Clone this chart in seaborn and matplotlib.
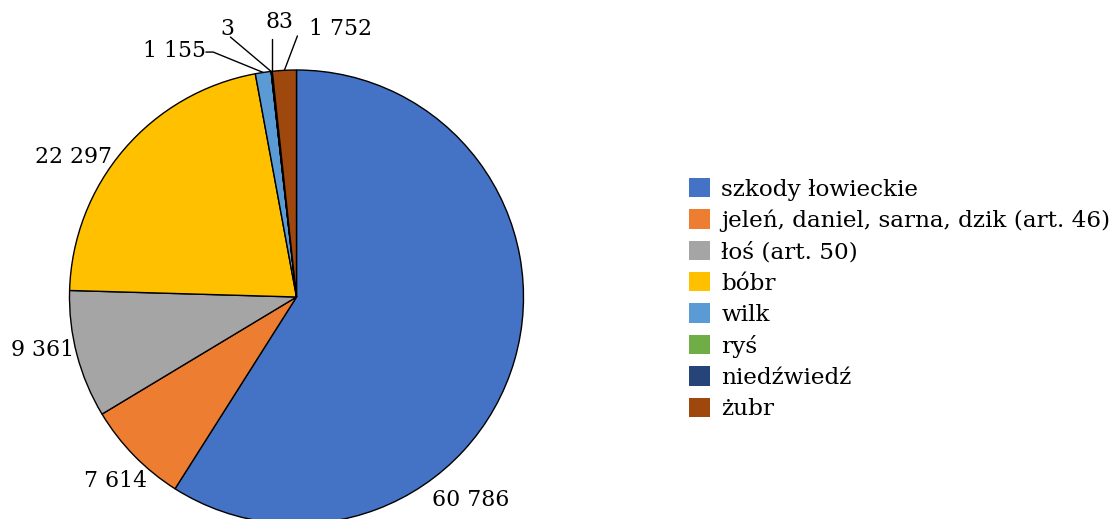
import numpy as np
import matplotlib
matplotlib.use("Agg")
import matplotlib.pyplot as plt
import seaborn as sns

categories = ["szkody łowieckie", "jeleń, daniel, sarna, dzik (art. 46)", "łoś (art. 50)",
              "bóbr", "wilk", "ryś", "niedźwiedź", "żubr"]
values = [60786, 7614, 9361, 22297, 1155, 3, 83, 1752]
value_labels = ["60 786", "7 614", "9 361", "22 297", "1 155", "3", "83", "1 752"]
colors = ["#4472C4", "#ED7D31", "#A5A5A5", "#FFC000", "#5B9BD5", "#70AD47", "#264478", "#9E480E"]

sns.set_theme(style="white")
plt.rcParams["font.family"] = ["DejaVu Serif"]
plt.rcParams["text.color"] = "black"

W, H = 1117, 519
fig = plt.figure(figsize=(W / 100, H / 100), dpi=100)
cx, cy, r = 296.5, 297, 227
ax = fig.add_axes([(cx - r) / W, (H - cy - r) / H, 2 * r / W, 2 * r / H])
palette = sns.color_palette(colors)
wedges, _ = ax.pie(values, colors=palette, startangle=90, counterclock=False,
                   wedgeprops=dict(edgecolor="black", linewidth=1.0))
ax.set_xlim(-1, 1)
ax.set_ylim(-1, 1)
ax.set_aspect("equal")
ax.axis("off")
for w in wedges:
    w.set_clip_on(False)

fs = 15.8
# label positions (layout, in pie-radius units)
label_pos = [(0.767, -0.894), (-0.797, -0.811), (-1.119, -0.233), (-0.982, 0.617),
             (-0.537, 1.084), (-0.304, 1.181), (-0.075, 1.211), (0.194, 1.181)]
leader = [False, False, False, False, True, True, True, True]
for i, w in enumerate(wedges):
    tx, ty = label_pos[i]
    if leader[i]:
        mid = np.deg2rad((w.theta1 + w.theta2) / 2)
        ex, ey = np.cos(mid), np.sin(mid)
        if i == 4:
            ax.plot([tx + 0.138, tx + 0.17, ex], [ty - 0.005, ty - 0.005, ey], color="black", lw=1, clip_on=False)
        elif i == 5:
            ax.plot([tx + 0.013, ex], [ty - 0.036, ey], color="black", lw=1, clip_on=False)
        elif i == 6:
            ax.plot([ex, ex], [ty - 0.074, ey], color="black", lw=1, clip_on=False)
        elif i == 7:
            ax.plot([tx - 0.19, ex], [ty - 0.031, ey], color="black", lw=1, clip_on=False)
    ax.text(tx, ty, value_labels[i], ha="center", va="center", fontsize=fs, color="black", clip_on=False)

lfs = 16.7
handles = [plt.Rectangle((0, 0), 1, 1, facecolor=c, edgecolor="none") for c in palette]
leg = fig.legend(handles, categories, loc="upper left", bbox_to_anchor=(689 / W, 1 - 178 / H),
                 frameon=False, fontsize=lfs, handlelength=0.9, handleheight=0.9,
                 handletextpad=0.5, labelspacing=0.375, borderpad=0, borderaxespad=0)
for t in leg.get_texts():
    t.set_color("black")

fig.savefig("out.png", dpi=100, facecolor="white")
